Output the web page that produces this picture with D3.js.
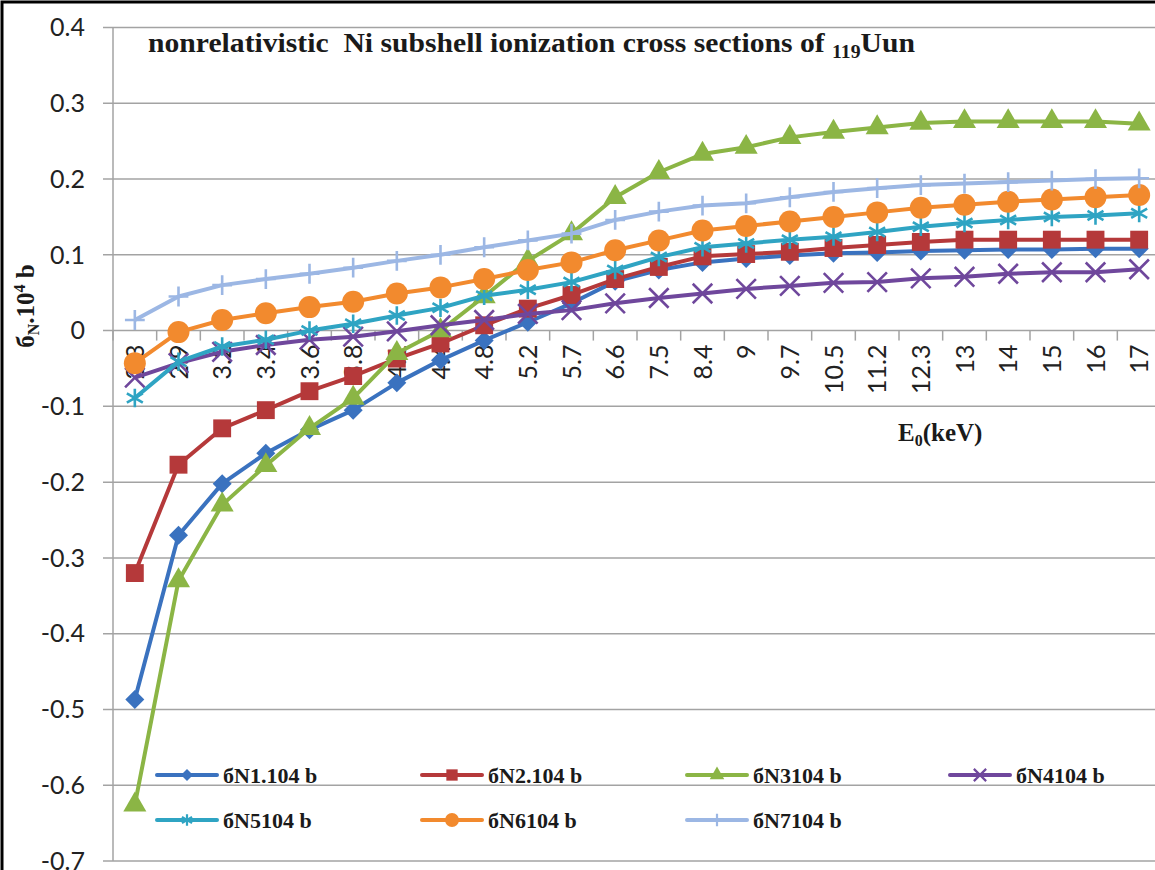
<!DOCTYPE html>
<html>
<head>
<meta charset="utf-8">
<script src="https://cdn.jsdelivr.net/npm/d3@7"></script>
<style>
  html, body { margin: 0; padding: 0; background: #fff; }
  svg { display: block; }
  .tick-y { font-family: Lato, "Open Sans", sans-serif; font-size: 25px; fill: #222; }
  .tick-x { font-family: Lato, "Open Sans", sans-serif; font-size: 25px; fill: #222; }
  .serif { font-family: "Liberation Serif", "Times New Roman", serif; font-weight: bold; fill: #1a1a1a; }
</style>
</head>
<body>
<svg id="chart" width="1155" height="870"></svg>
<script>
// --- Données
const energies = ['2.3', '2.9', '3.2', '3.4', '3.6', '3.8', '4.1', '4.4', '4.8', '5.2', '5.7', '6.6',
                  '7.5', '8.4', '9', '9.7', '10.5', '11.2', '12.3', '13', '14', '15', '16', '17'];
const yTicks = [0.4, 0.3, 0.2, 0.1, 0, -0.1, -0.2, -0.3, -0.4, -0.5, -0.6, -0.7];

const sigmaN1 = [-0.487, -0.27, -0.202, -0.162, -0.131, -0.105, -0.069, -0.039, -0.013, 0.011, 0.036, 0.065,
                 0.08, 0.09, 0.095, 0.099, 0.102, 0.103, 0.105, 0.106, 0.107, 0.107, 0.108, 0.108];
const sigmaN2 = [-0.32, -0.177, -0.129, -0.105, -0.08, -0.06, -0.037, -0.017, 0.007, 0.029, 0.047, 0.068,
                 0.084, 0.098, 0.101, 0.104, 0.109, 0.113, 0.117, 0.12, 0.12, 0.12, 0.12, 0.12];
const sigmaN3 = [-0.626, -0.33, -0.23, -0.178, -0.129, -0.089, -0.03, 0.0, 0.045, 0.092, 0.128, 0.176,
                 0.209, 0.233, 0.242, 0.255, 0.262, 0.268, 0.274, 0.276, 0.276, 0.276, 0.276, 0.273];
const sigmaN4 = [-0.062, -0.043, -0.028, -0.019, -0.012, -0.008, -0.001, 0.007, 0.014, 0.022, 0.027, 0.036,
                 0.043, 0.049, 0.055, 0.059, 0.063, 0.064, 0.069, 0.071, 0.075, 0.077, 0.077, 0.081];
const sigmaN5 = [-0.089, -0.041, -0.021, -0.012, 0.0, 0.009, 0.02, 0.03, 0.046, 0.054, 0.064, 0.08,
                 0.097, 0.11, 0.115, 0.12, 0.124, 0.13, 0.137, 0.142, 0.146, 0.15, 0.152, 0.155];
const sigmaN6 = [-0.043, -0.002, 0.014, 0.023, 0.031, 0.038, 0.049, 0.057, 0.068, 0.08, 0.09, 0.106,
                 0.119, 0.132, 0.138, 0.144, 0.15, 0.156, 0.162, 0.166, 0.17, 0.173, 0.176, 0.179];
const sigmaN7 = [0.014, 0.045, 0.06, 0.068, 0.075, 0.083, 0.092, 0.1, 0.11, 0.119, 0.128, 0.146,
                 0.157, 0.165, 0.168, 0.176, 0.183, 0.188, 0.192, 0.194, 0.196, 0.198, 0.2, 0.201];

const seriesNames = ['бN1.104 b', 'бN2.104 b', 'бN3104 b', 'бN4104 b', 'бN5104 b', 'бN6104 b', 'бN7104 b'];
const seriesValues = [sigmaN1, sigmaN2, sigmaN3, sigmaN4, sigmaN5, sigmaN6, sigmaN7];

// --- Styles
const colors = ['#3a72bf', '#b5393a', '#8bb545', '#6f479c', '#2fa4c3', '#f28a2e', '#9cb7e4'];
const markers = ['diamond', 'square', 'triangle', 'times', 'asterisk', 'circle', 'plus'];

const svg = d3.select('#chart');
const W = 1155, H = 870;
const plot = { left: 113, right: 1161, top: 27.5, bottom: 861 };

const x = d3.scaleBand().domain(energies).range([plot.left, plot.right]).padding(0);
const y = d3.scaleLinear().domain([-0.7, 0.4]).range([plot.bottom, plot.top]);
const cx = d => x(d) + x.bandwidth() / 2;

// cadre noir
svg.append('rect').attr('x', 2).attr('y', 2).attr('width', W + 20).attr('height', H + 20)
  .attr('fill', 'none').attr('stroke', '#000').attr('stroke-width', 3);

// --- Grille + axe Y
const gridG = svg.append('g');
gridG.selectAll('line').data(yTicks).join('line')
  .attr('x1', plot.left - 10).attr('x2', plot.right)
  .attr('y1', d => y(d)).attr('y2', d => y(d))
  .attr('stroke', '#a3a3a3').attr('stroke-width', 1.5);

svg.append('line').attr('x1', plot.left).attr('x2', plot.left)
  .attr('y1', plot.top).attr('y2', plot.bottom)
  .attr('stroke', '#a3a3a3').attr('stroke-width', 1.5);

svg.append('g').selectAll('text').data(yTicks).join('text')
  .attr('class', 'tick-y')
  .attr('x', 85).attr('y', d => y(d)).attr('dy', '0.35em')
  .attr('text-anchor', 'end')
  .text(d => d3.format('.1f')(d).replace('0.0', '0').replace('−', '-'));

// --- Axe X (croise à 0)
const y0 = y(0);
const bounds = d3.range(energies.length + 1).map(i => plot.left + i * x.bandwidth());
svg.append('g').selectAll('line').data(bounds).join('line')
  .attr('x1', d => d).attr('x2', d => d)
  .attr('y1', y0).attr('y2', y0 + 10)
  .attr('stroke', '#a3a3a3').attr('stroke-width', 1.5);

svg.append('g').selectAll('text').data(energies).join('text')
  .attr('class', 'tick-x')
  .attr('transform', d => `translate(${cx(d) + 9},${y0 + 14}) rotate(-90)`)
  .attr('text-anchor', 'end')
  .text(d => d);

// --- Séries
const symbolPath = (type, s) => {
  const m = {
    diamond: d3.symbol(d3.symbolDiamond2, 230 * s),
    square: d3.symbol(d3.symbolSquare, 320 * s),
    triangle: d3.symbol(d3.symbolTriangle, 230 * s),
    times: d3.symbol(d3.symbolTimes, 250 * s),
    asterisk: d3.symbol(d3.symbolAsterisk, 240 * s),
    circle: d3.symbol(d3.symbolCircle, 380 * s),
    plus: d3.symbol(d3.symbolPlus, 130 * s)
  };
  return m[type]();
};
const stroked = t => t === 'times' || t === 'asterisk' || t === 'plus';

const line = d3.line().x(d => cx(d.e)).y(d => y(d.v));

seriesValues.forEach((vals, k) => {
  const pts = energies.map((e, i) => ({ e, v: vals[i] }));
  const g = svg.append('g');
  g.append('path').datum(pts).attr('d', line)
    .attr('fill', 'none').attr('stroke', colors[k]).attr('stroke-width', 4)
    .attr('stroke-linejoin', 'round');
  g.selectAll('path.mk').data(pts).join('path').attr('class', 'mk')
    .attr('transform', d => `translate(${cx(d.e)},${y(d.v)})`)
    .attr('d', symbolPath(markers[k], 1))
    .attr('fill', stroked(markers[k]) ? 'none' : colors[k])
    .attr('stroke', stroked(markers[k]) ? colors[k] : 'none')
    .attr('stroke-width', 2.6);
});

// --- Titre
const title = svg.append('text').attr('class', 'serif').attr('x', 148).attr('y', 52)
  .attr('font-size', 27).style('white-space', 'pre')
  .attr('textLength', 767).attr('lengthAdjust', 'spacingAndGlyphs');
title.append('tspan').text('nonrelativistic  Ni subshell ionization cross sections of ');
title.append('tspan').attr('font-size', 18).attr('dy', 6).text('119');
title.append('tspan').attr('dy', -6).text('Uun');

// --- Titre axe Y
const yl = svg.append('text').attr('class', 'serif')
  .attr('transform', 'translate(34,306) rotate(-90)')
  .attr('text-anchor', 'middle').attr('font-size', 25);
yl.append('tspan').text('б');
yl.append('tspan').attr('font-size', 16).attr('dy', 5).text('N');
yl.append('tspan').attr('dy', -5).text('.10');
yl.append('tspan').attr('font-size', 16).attr('dy', -9).text('4');
yl.append('tspan').attr('dy', 9).text(' b');

// --- Titre axe X
const xl = svg.append('text').attr('class', 'serif').attr('x', 898).attr('y', 441).attr('font-size', 25);
xl.append('tspan').text('E');
xl.append('tspan').attr('font-size', 16).attr('dy', 5).text('0');
xl.append('tspan').attr('dy', -5).text('(keV)');

// --- Légende
const legX = [157, 422, 687, 950];
const legY = [775, 820];
const leg = svg.append('g');
seriesNames.forEach((name, k) => {
  const lx = legX[k % 4], ly = legY[Math.floor(k / 4)];
  const g = leg.append('g').attr('transform', `translate(${lx},${ly})`);
  g.append('line').attr('x1', 0).attr('x2', 60).attr('y1', 0).attr('y2', 0)
    .attr('stroke', colors[k]).attr('stroke-width', 4).attr('stroke-linecap', 'round');
  g.append('path').attr('transform', 'translate(30,0)')
    .attr('d', symbolPath(markers[k], 0.4))
    .attr('fill', stroked(markers[k]) ? 'none' : colors[k])
    .attr('stroke', stroked(markers[k]) ? colors[k] : 'none')
    .attr('stroke-width', 2.2);
  g.append('text').attr('class', 'serif').attr('x', 66).attr('y', 8)
    .attr('font-size', 22).text(name);
});
</script>
</body>
</html>
